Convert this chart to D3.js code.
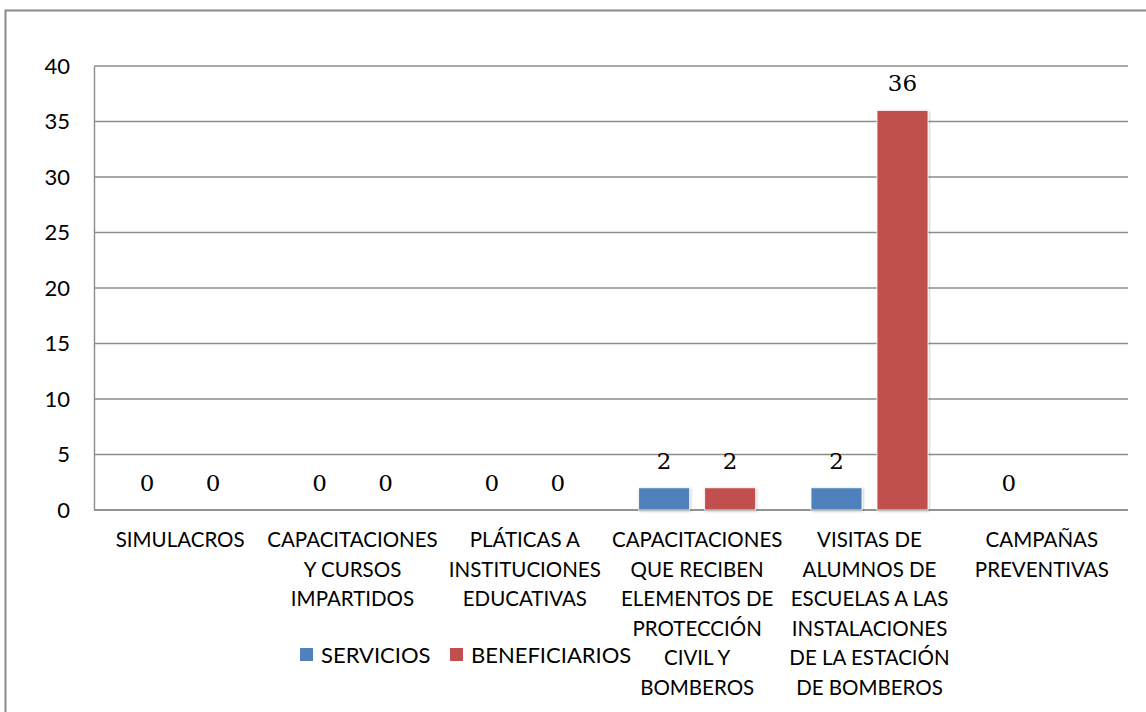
<!DOCTYPE html>
<html>
<head>
<meta charset="utf-8">
<script src="https://cdn.jsdelivr.net/npm/d3@7"></script>
<style>
  body { margin: 0; background: #fff; }
  svg { display: block; }
</style>
</head>
<body>
<div class="chart"></div>
<script>
var categories = [
  ['SIMULACROS'],
  ['CAPACITACIONES', 'Y CURSOS', 'IMPARTIDOS'],
  ['PLÁTICAS A', 'INSTITUCIONES', 'EDUCATIVAS'],
  ['CAPACITACIONES', 'QUE RECIBEN', 'ELEMENTOS DE', 'PROTECCIÓN', 'CIVIL Y', 'BOMBEROS'],
  ['VISITAS DE', 'ALUMNOS DE', 'ESCUELAS A LAS', 'INSTALACIONES', 'DE LA ESTACIÓN', 'DE BOMBEROS'],
  ['CAMPAÑAS', 'PREVENTIVAS']
]
var seriesNames = ['SERVICIOS', 'BENEFICIARIOS']
var servicios = [0, 0, 0, 2, 2, 0]
var beneficiarios = [0, 0, 0, 2, 36, null]
var yTicks = [0, 5, 10, 15, 20, 25, 30, 35, 40]
var colors = ['#4F81BD', '#C0504D']

var W = 1146, H = 712
var margin = {top: 66, right: 18, bottom: 202, left: 94}
var width = W - margin.left - margin.right
var height = H - margin.top - margin.bottom

var svg = d3.select('.chart').append('svg')
  .attr('width', W)
  .attr('height', H)

var defs = svg.append('defs')
var f = defs.append('filter').attr('id', 'shadow')
  .attr('x', '-20%').attr('y', '-20%').attr('width', '140%').attr('height', '140%')
f.append('feDropShadow')
  .attr('dx', 1).attr('dy', 1).attr('stdDeviation', 1.2)
  .attr('flood-color', '#000').attr('flood-opacity', 0.25)

// outer frame (only left and top visible)
svg.append('path')
  .attr('d', 'M5.5,' + H + 'V10.5H' + W)
  .style('fill', 'none')
  .style('stroke', '#8a8a8a')
  .style('stroke-width', 2)

var g = svg.append('g')
  .attr('transform', 'translate(' + margin.left + ',' + margin.top + ')')

var idx = d3.range(categories.length)
var x0 = d3.scaleBand().domain(idx).range([0, width])
var inner = 117
var x1 = d3.scaleBand().domain([0, 1])
  .range([(x0.bandwidth() - inner) / 2, (x0.bandwidth() + inner) / 2])
  .paddingInner(15 / 66)
var y = d3.scaleLinear().domain([0, 40]).range([height, 0])

// gridlines
g.append('g')
  .selectAll('line')
  .data(yTicks)
  .enter()
  .append('line')
  .attr('x1', 0)
  .attr('x2', width)
  .attr('y1', function(d) { return y(d) })
  .attr('y2', function(d) { return y(d) })
  .style('stroke', '#8c8c8c')
  .style('stroke-width', 1.4)

// y axis
var yAxis = g.append('g')
  .call(d3.axisLeft(y).tickValues(yTicks).tickSize(0).tickPadding(24))
yAxis.select('.domain').style('stroke', '#8c8c8c').style('stroke-width', 1.4)
yAxis.selectAll('text')
  .style('font-family', 'Lato, sans-serif')
  .style('font-size', '22px')
  .style('fill', '#000')

// x axis line
g.append('line')
  .attr('x1', 0).attr('x2', width)
  .attr('y1', height).attr('y2', height)
  .style('stroke', '#8c8c8c')
  .style('stroke-width', 1.4)

// bars
var rows = idx.map(function(i) {
  return [servicios[i], beneficiarios[i]]
})
var groups = g.selectAll('.grp')
  .data(rows)
  .enter()
  .append('g')
  .attr('class', 'grp')
  .attr('transform', function(d, i) { return 'translate(' + x0(i) + ',0)' })

groups.selectAll('rect')
  .data(function(d) { return d.map(function(v, s) { return {v: v, s: s} }) })
  .enter()
  .filter(function(d) { return d.v })
  .append('rect')
  .attr('x', function(d) { return x1(d.s) })
  .attr('width', x1.bandwidth())
  .attr('y', function(d) { return y(d.v) })
  .attr('height', function(d) { return height - y(d.v) })
  .style('fill', function(d) { return colors[d.s] })
  .style('stroke', '#fff')
  .style('stroke-width', 0.8)
  .attr('filter', 'url(#shadow)')

// data labels
groups.selectAll('text.val')
  .data(function(d) { return d.map(function(v, s) { return {v: v, s: s} }) })
  .enter()
  .filter(function(d) { return d.v !== null })
  .append('text')
  .attr('class', 'val')
  .attr('x', function(d) { return x1(d.s) + x1.bandwidth() / 2 })
  .attr('y', function(d) { return y(d.v) - 19 })
  .attr('text-anchor', 'middle')
  .style('font-family', '"DejaVu Serif", serif')
  .style('font-size', '23px')
  .style('fill', '#000')
  .text(function(d) { return d.v })

// category labels
var lineH = 29.5
g.selectAll('.cat')
  .data(categories)
  .enter()
  .append('text')
  .attr('class', 'cat')
  .attr('text-anchor', 'middle')
  .attr('transform', function(d, i) {
    return 'translate(' + (x0(i) + x0.bandwidth() / 2) + ',' + (height + 37) + ')'
  })
  .style('font-family', 'Lato, sans-serif')
  .style('font-size', '20.5px')
  .style('fill', '#000')
  .selectAll('tspan')
  .data(function(d) { return d })
  .enter()
  .append('tspan')
  .attr('x', 0)
  .attr('y', function(d, j) { return j * lineH })
  .text(function(d) { return d })

// legend
var legendX = [300, 450]
var legend = svg.append('g')
seriesNames.forEach(function(name, s) {
  legend.append('rect')
    .attr('x', legendX[s])
    .attr('y', 648)
    .attr('width', 13)
    .attr('height', 13)
    .style('fill', colors[s])
  legend.append('text')
    .attr('x', legendX[s] + 21)
    .attr('y', 663)
    .style('font-family', 'Lato, sans-serif')
    .style('font-size', '22px')
    .style('fill', '#000')
    .text(name)
})
</script>
</body>
</html>
